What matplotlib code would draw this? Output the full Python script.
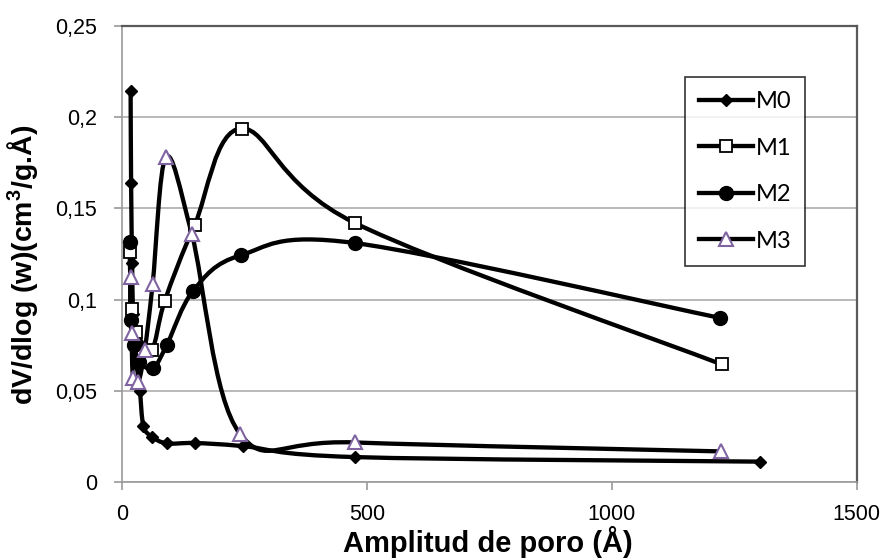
import numpy as np
import matplotlib.pyplot as plt
from matplotlib.path import Path
from matplotlib.patches import PathPatch
from matplotlib.ticker import FuncFormatter

plt.rcParams['font.family'] = ['Liberation Sans', 'DejaVu Sans']
plt.rcParams['mathtext.fontset'] = 'custom'
plt.rcParams['mathtext.rm'] = 'Liberation Sans'
plt.rcParams['mathtext.bf'] = 'Liberation Sans:bold'

# pore width (Å) and dV/dlog(w) values
m0_x = [17, 18, 20, 22, 25, 29, 36, 43, 60, 91, 148, 247, 475, 1303]
m0_y = [0.214, 0.164, 0.12, 0.092, 0.076, 0.065, 0.05, 0.031, 0.025, 0.0213, 0.0215, 0.0198, 0.0138, 0.0113]

m1_x = [15, 19, 29, 60, 87, 148, 244, 475, 1225]
m1_y = [0.126, 0.095, 0.0825, 0.0725, 0.0995, 0.141, 0.1937, 0.142, 0.0645]

m2_x = [16, 17, 24, 35, 63, 91, 145, 242, 475, 1221]
m2_y = [0.1316, 0.089, 0.075, 0.066, 0.0625, 0.0752, 0.1049, 0.1243, 0.131, 0.090]

m3_x = [17, 19, 22, 33, 46, 62, 89, 142, 240, 475, 1223]
m3_y = [0.1125, 0.0816, 0.057, 0.055, 0.0725, 0.1085, 0.178, 0.136, 0.0267, 0.0218, 0.0169]

series = [
    ('M0', m0_x, m0_y, dict(marker='D', ms=6.5, mfc='black', mec='black')),
    ('M1', m1_x, m1_y, dict(marker='s', ms=8, mfc='white', mec='black', mew=1.3)),
    ('M2', m2_x, m2_y, dict(marker='o', ms=10, mfc='black', mec='black')),
    ('M3', m3_x, m3_y, dict(marker='^', ms=10, mfc='white', mec='#8064A2', mew=1.5)),
]


def smooth_path(x, y, k=1 / 6):
    """Excel-like smoothed line: cubic Bezier segments through the points."""
    p = np.column_stack([x, y]).astype(float)
    verts = [p[0]]
    codes = [Path.MOVETO]
    n = len(p)
    for i in range(n - 1):
        p0 = p[i - 1] if i > 0 else p[i]
        p1, p2 = p[i], p[i + 1]
        p3 = p[i + 2] if i + 2 < n else p[i + 1]
        c1 = p1 + (p2 - p0) * k
        c2 = p2 - (p3 - p1) * k
        verts += [c1, c2, p2]
        codes += [Path.CURVE4] * 3
    return Path(verts, codes)


fig = plt.figure(figsize=(8.9, 5.6), dpi=100)
ax = fig.add_axes([0.1374, 0.1388, 0.825, 0.8153])

for name, x, y, st in series:
    ax.add_patch(PathPatch(smooth_path(x, y), fill=False, ec='black', lw=3.1, zorder=2,
                           capstyle='round', joinstyle='round'))
    ax.plot(x, y, ls='none', zorder=3, **st)
    # legend proxy
    ax.plot([], [], color='black', lw=3.1, label=name, **st)

ax.set_xlim(0, 1500)
ax.set_ylim(0, 0.25)
ax.set_xticks([0, 500, 1000, 1500])
ax.set_yticks(np.arange(0, 0.2501, 0.05))
ax.yaxis.set_major_formatter(FuncFormatter(lambda v, p: ('%g' % round(v, 2)).replace('.', ',')))
ax.grid(axis='y', color='#B3B3B3', lw=1.3)
ax.set_axisbelow(True)
for s in ['top', 'right']:
    ax.spines[s].set_color('#5A5A5A')
    ax.spines[s].set_linewidth(1.6)
for s in ['left', 'bottom']:
    ax.spines[s].set_color('#9A9A9A')
    ax.spines[s].set_linewidth(1.2)
ax.tick_params(colors='#9A9A9A', labelcolor='black', labelsize=15.5, length=6, width=1.2)
ax.tick_params(axis='y', pad=12)
ax.tick_params(axis='x', pad=10)

ax.set_xlabel('Amplitud de poro (Å)', fontsize=21, fontweight='bold')
ax.xaxis.set_label_coords(0.498, -0.095)
ax.set_ylabel(r'dV/dlog (w)(cm$\mathbf{^3}$/g.Å)', fontsize=20.5, fontweight='bold')
ax.yaxis.set_label_coords(-0.112, 0.476)

leg = ax.legend(loc='upper left', bbox_to_anchor=(0.766, 0.888), borderaxespad=0,
                fontsize=17, frameon=True, fancybox=False, edgecolor='black',
                handlelength=2.3, handletextpad=0.1, labelspacing=1.08, borderpad=0.6)
leg.get_frame().set_linewidth(1.2)
for t in leg.get_texts():
    t.set_family(['Lato', 'DejaVu Sans'])

fig.savefig('out.png', dpi=100)
